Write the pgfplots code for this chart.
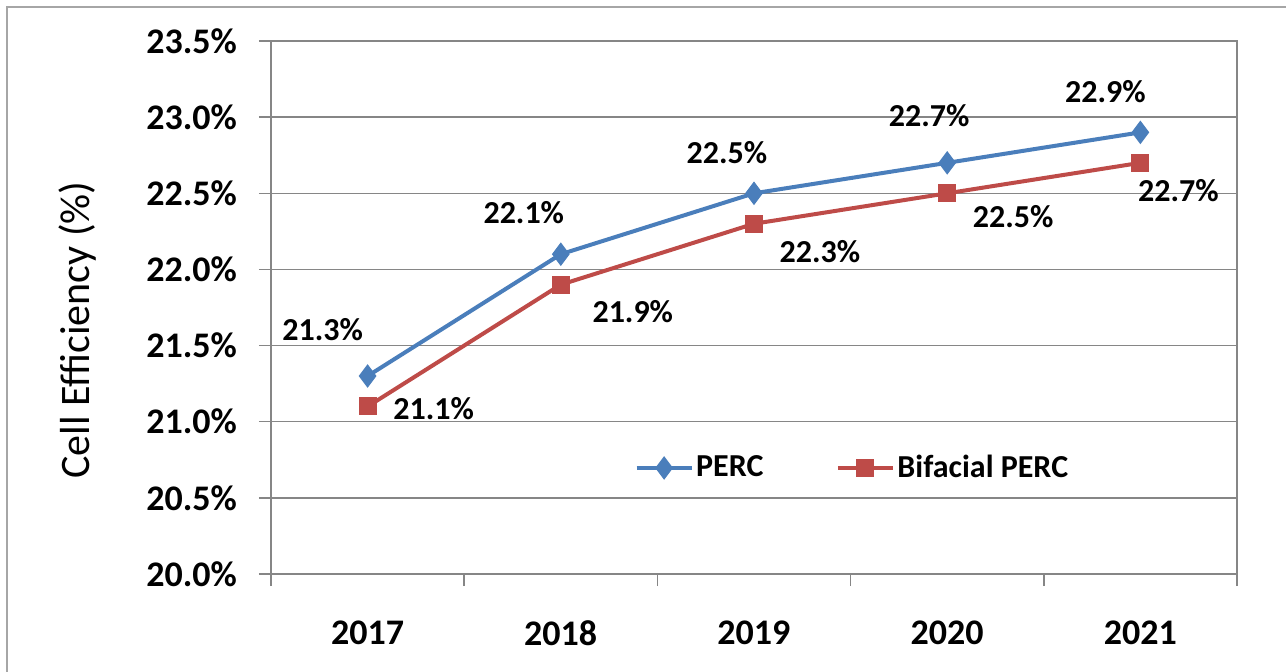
\documentclass[border=0pt]{standalone}
\usepackage{fontspec}
\setmainfont{Carlito}
\usepackage{pgfplots}
\usepackage{pgfplotstable}
\pgfplotsset{compat=1.18}

\definecolor{perc}{HTML}{4A7EBB}
\definecolor{bifi}{HTML}{BE4B48}
\definecolor{axisgray}{HTML}{868686}

% x y dx dy  (label offsets in pt)
\pgfplotstableread{
x y dx dy
0 21.3 -22.5 23
1 22.1 -18.5 21
2 22.5 -13.5 20.5
3 22.7 -9 23.5
4 22.9 -17.5 20.5
}\perc
\pgfplotstableread{
x y dx dy
0 21.1 33 -1
1 21.9 36 -13.5
2 22.3 33 -14
3 22.5 33 -11.5
4 22.7 19 -14
}\bifi

\begin{document}
\begin{tikzpicture}
  \path[use as bounding box] (-135.5pt,-48.5pt) rectangle (507.5pt,287pt);
  % outer frame
  \draw[black!35, line width=0.8pt] (-132pt,-80pt) -- (-132pt,283.5pt) -- (520pt,283.5pt);
  \begin{axis}[
    scale only axis, width=483pt, height=266.5pt,
    clip=false,
    /pgf/number format/assume math mode=true,
    xmin=-0.5, xmax=4.5, ymin=20, ymax=23.5,
    tick pos=left,
    xtick={-0.5,0.5,...,4.5},
    xticklabels={2017,2018,2019,2020,2021,{}},
    x tick label style={xshift=48.25pt, yshift=-14pt, font=\bfseries\fontsize{18}{21}\selectfont},
    ytick={20,20.5,...,23.5},
    yticklabel={\pgfmathprintnumber[fixed,fixed zerofill,precision=1]{\tick}\%},
    y tick label style={xshift=-7.5pt, font=\bfseries\fontsize{18}{21}\selectfont},
    tick align=outside, major tick length=6pt,
    tick style={axisgray, line width=0.75pt},
    axis line style={axisgray, line width=0.75pt},
    ymajorgrids, grid style={axisgray, line width=0.75pt},
    every axis y label/.style={at={(axis description cs:-0.1998,0.458)}, rotate=90, anchor=center,
      font=\fontsize{21}{25}\selectfont},
    ylabel={Cell Efficiency (\%)},
    nodes near coords={\pgfmathprintnumber[fixed,fixed zerofill,precision=1]{\pgfplotspointmeta}\%},
    visualization depends on={\thisrow{dx}\as\dx},
    visualization depends on={\thisrow{dy}\as\dy},
    every node near coord/.append style={anchor=center, xshift=\dx*1pt, yshift=\dy*1pt,
      font=\bfseries\fontsize{16}{19}\selectfont, text=black},
    legend columns=2,
    legend style={at={(axis description cs:0.376,0.199)}, anchor=west, draw=none, fill=none,
      inner sep=0pt, font=\bfseries\fontsize{16}{19}\selectfont,
      nodes={inner sep=1.25pt, anchor=west},
      /tikz/every even column/.append style={column sep=35pt}},
    legend image code/.code={\draw[mark repeat=2,mark phase=2,#1] plot coordinates {(0pt,0pt) (13.75pt,0pt) (27.5pt,0pt)};},
  ]
    \addplot[perc, line width=2pt, mark=diamond*, mark size=5.5pt, mark options={solid, line width=0.5pt}]
      table[x=x, y=y] {\perc};
    \addlegendentry{PERC}
    \addplot[bifi, line width=2pt, mark=square*, mark size=4.25pt, mark options={solid, line width=0.5pt}]
      table[x=x, y=y] {\bifi};
    \addlegendentry{Bifacial PERC}
  \end{axis}
\end{tikzpicture}
\end{document}
